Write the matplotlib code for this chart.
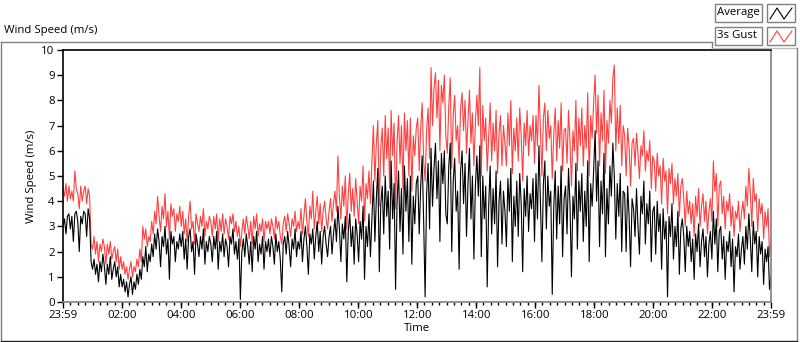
import numpy as np
import matplotlib.pyplot as plt
from matplotlib.lines import Line2D
from matplotlib.patches import Rectangle

# one row per hour after 23:59, 20 samples (3 min) per row
average = [
    3.0, 3.3, 2.7, 3.4, 3.5, 2.9, 3.4, 2.4, 3.5, 3.6, 3.2, 2.0, 3.4, 3.1, 3.6, 3.5, 2.6, 3.7, 3.3, 1.6,
    1.3, 1.7, 1.1, 1.5, 0.8, 1.6, 1.2, 1.9, 1.4, 0.7, 1.5, 1.1, 1.8, 0.9, 1.3, 1.6, 1.0, 1.4, 0.6, 1.1,
    0.6, 0.9, 0.4, 0.8, 0.2, 0.7, 1.0, 0.3, 0.8, 0.5, 1.1, 0.7, 1.3, 0.9, 1.8, 1.4, 2.2, 1.2, 1.9, 1.6,
    2.3, 1.8, 2.7, 2.1, 2.9, 2.4, 1.4, 2.6, 2.2, 3.0, 1.9, 2.5, 0.9, 2.8, 2.3, 2.6, 1.6, 2.4, 2.1, 2.7,
    2.2, 2.8, 1.7, 2.5, 1.3, 2.6, 2.9, 2.0, 2.4, 1.1, 2.7, 2.3, 1.8, 2.6, 2.1, 2.9, 1.5, 2.4, 2.0, 2.6,
    2.3, 1.6, 2.6, 2.1, 2.8, 1.3, 2.4, 2.0, 2.7, 1.8, 2.5, 2.2, 1.4, 2.6, 2.3, 2.9, 1.9, 2.4, 1.7, 2.5,
    0.1, 2.0, 2.5, 1.8, 2.7, 2.2, 1.5, 2.4, 1.2, 2.6, 2.1, 2.8, 1.6, 2.3, 1.9, 2.6, 1.3, 2.4, 2.0, 2.5,
    1.8, 2.6, 2.2, 1.5, 2.7, 2.0, 2.4, 1.7, 0.4, 2.3, 2.6, 1.9, 2.8, 2.2, 1.4, 2.5, 2.1, 2.9, 1.8, 2.4,
    2.1, 2.8, 1.6, 2.5, 3.0, 2.2, 1.1, 2.7, 2.3, 2.9, 1.7, 2.6, 3.2, 2.0, 2.8, 1.5, 2.6, 3.0, 2.3, 1.8,
    2.6, 3.0, 1.9, 2.7, 3.3, 2.4, 3.8, 2.9, 1.6, 3.1, 2.5, 3.4, 0.8, 2.8, 3.5, 2.2, 3.0, 1.5, 3.3, 2.7,
    1.6, 3.2, 2.5, 3.8, 0.9, 3.0, 2.2, 3.5, 1.8, 3.3, 4.8, 2.4, 4.1, 5.3, 1.2, 3.9, 4.6, 2.7, 5.0, 3.4,
    4.4, 2.1, 5.6, 3.3, 4.7, 0.5, 3.9, 5.2, 2.8, 4.5, 1.9, 5.4, 3.6, 4.9, 2.4, 5.0, 1.5, 4.2, 3.1, 4.7,
    5.0, 2.7, 4.6, 5.8, 3.2, 0.2, 4.3, 5.5, 2.9, 6.1, 3.8, 5.3, 6.3, 4.1, 5.6, 2.4, 5.9, 4.7, 6.0, 3.5,
    3.1, 5.4, 6.3, 2.0, 4.8, 5.7, 3.6, 4.4, 1.3, 5.2, 6.0, 3.9, 5.5, 2.6, 4.7, 6.1, 3.3, 5.0, 1.7, 4.6,
    5.8, 4.2, 6.2, 1.8, 5.0, 3.3, 4.6, 0.6, 3.8, 5.4, 2.7, 4.5, 3.1, 5.2, 1.4, 4.0, 4.8, 2.3, 4.4, 3.6,
    2.2, 4.9, 3.6, 5.3, 1.6, 4.2, 3.0, 4.8, 2.6, 5.1, 3.9, 1.2, 4.5, 3.4, 5.0, 2.8, 4.3, 3.7, 4.9, 2.4,
    5.1, 3.3, 6.2, 4.0, 1.6, 4.7, 5.6, 2.9, 5.0, 3.8, 4.4, 0.3, 3.7, 5.2, 2.5, 4.6, 3.1, 5.4, 1.8, 4.1,
    4.6, 2.7, 5.3, 3.9, 1.0, 4.2, 3.3, 5.5, 2.1, 4.8, 3.6, 5.1, 2.4, 4.4, 3.0, 5.6, 1.6, 4.7, 3.8, 5.2,
    6.8, 4.0, 5.6, 2.2, 4.8, 3.5, 5.9, 1.8, 4.5, 3.1, 5.4, 4.2, 6.3, 5.0, 2.5, 4.7, 3.4, 5.1, 2.0, 4.4,
    4.3, 2.0, 4.6, 3.4, 1.4, 4.1, 3.7, 2.6, 4.5, 3.0, 1.9, 4.2, 3.5, 4.8, 2.3, 3.9, 3.1, 4.4, 1.6, 3.6,
    3.8, 1.9, 4.0, 2.8, 3.5, 1.3, 3.7, 2.5, 3.2, 0.2, 3.4, 2.6, 3.9, 1.7, 3.0, 2.2, 3.6, 1.1, 2.9, 3.3,
    2.6, 1.2, 3.0, 2.2, 2.8, 1.6, 2.5, 0.9, 2.7, 2.0, 3.1, 1.4, 2.4, 2.9, 1.8, 2.6, 1.0, 2.3, 2.8, 1.7,
    3.6, 2.3, 3.3, 1.2, 2.8, 3.0, 1.7, 2.6, 0.9, 2.4, 2.0, 2.8, 1.4, 2.5, 0.4, 2.2, 1.8, 2.7, 1.3, 2.1,
    2.6, 1.5, 3.0, 2.1, 3.5, 2.5, 1.2, 3.2, 2.3, 2.8, 1.0, 2.6, 1.9, 2.4, 0.7, 2.1, 1.6, 2.2, 0.5, 1.0,
]
gust = [
    4.5, 4.2, 4.7, 4.0, 4.6, 4.1, 4.4, 4.0, 5.2, 4.5, 4.3, 3.7, 4.6, 4.0, 4.4, 4.6, 3.9, 4.5, 4.2, 2.3,
    2.1, 2.6, 1.9, 2.4, 1.6, 2.3, 2.0, 2.5, 2.2, 1.5, 2.3, 1.9, 2.4, 1.7, 2.0, 2.2, 1.6, 2.1, 1.3, 1.8,
    1.3, 1.6, 1.1, 1.4, 0.9, 1.3, 1.6, 1.0, 1.4, 1.2, 1.7, 1.4, 2.1, 1.6, 3.0, 2.5, 2.9, 2.2, 2.6, 2.4,
    3.2, 2.7, 3.6, 3.1, 4.2, 3.4, 2.8, 3.8, 3.3, 4.3, 3.0, 3.6, 2.5, 3.9, 3.4, 3.7, 2.8, 3.5, 3.2, 3.8,
    3.0, 3.6, 2.7, 3.3, 2.4, 3.4, 4.0, 2.9, 3.2, 2.3, 3.5, 3.1, 2.8, 3.4, 3.0, 3.7, 2.6, 3.2, 2.9, 3.4,
    3.2, 2.6, 3.4, 2.9, 3.5, 2.4, 3.3, 2.8, 3.5, 2.7, 3.3, 3.0, 2.5, 3.4, 3.1, 3.5, 2.8, 3.2, 2.6, 3.0,
    2.2, 2.8, 3.3, 2.7, 3.4, 3.0, 2.5, 3.2, 2.3, 3.4, 2.9, 3.5, 2.6, 3.1, 2.8, 3.3, 2.4, 3.2, 2.9, 3.2,
    2.7, 3.3, 3.0, 2.5, 3.4, 2.9, 3.2, 2.6, 2.3, 3.1, 3.4, 2.8, 3.5, 3.1, 2.6, 3.3, 3.0, 3.6, 2.8, 3.2,
    2.9, 3.7, 2.7, 3.4, 4.1, 3.2, 2.6, 3.8, 3.3, 4.4, 2.9, 3.6, 4.2, 3.1, 3.9, 2.8, 3.6, 4.0, 3.3, 2.9,
    3.6, 4.1, 3.2, 3.9, 4.4, 3.6, 5.8, 4.2, 3.3, 4.6, 3.8, 5.0, 2.9, 4.3, 5.1, 3.6, 4.5, 3.4, 4.9, 4.0,
    3.1, 4.6, 4.0, 5.4, 3.2, 4.7, 4.1, 5.2, 3.9, 5.6, 7.0, 4.8, 6.3, 7.2, 3.8, 6.1, 6.9, 5.0, 7.4, 5.7,
    6.9, 4.5, 7.6, 5.8, 7.1, 3.7, 6.3, 7.4, 5.5, 7.0, 4.5, 7.5, 6.0, 7.2, 5.0, 7.3, 4.4, 6.6, 5.8, 6.9,
    7.3, 5.2, 6.9, 7.9, 5.6, 4.8, 6.8, 7.7, 5.7, 9.3, 7.0, 8.5, 9.1, 7.3, 8.8, 6.0, 8.6, 7.9, 9.0, 6.6,
    5.9, 7.8, 8.9, 5.3, 7.4, 8.2, 6.4, 7.0, 5.5, 7.7, 8.3, 6.8, 8.0, 5.9, 7.2, 8.4, 6.3, 7.5, 5.4, 7.1,
    8.2, 7.0, 9.3, 5.0, 7.8, 6.4, 7.3, 5.2, 6.6, 7.9, 5.6, 7.1, 6.0, 7.6, 5.1, 6.7, 7.4, 5.4, 7.0, 6.3,
    5.4, 7.5, 6.2, 8.0, 5.1, 6.9, 6.0, 7.3, 5.6, 7.7, 6.6, 4.8, 7.1, 6.2, 7.6, 5.8, 7.0, 6.4, 7.4, 5.5,
    7.4, 6.2, 8.6, 6.8, 5.0, 7.3, 7.9, 6.0, 7.6, 6.5, 7.0, 4.9, 6.6, 7.7, 5.6, 7.2, 6.1, 7.9, 5.2, 6.8,
    6.9, 5.5, 7.6, 6.4, 4.6, 6.8, 6.0, 8.0, 5.2, 7.3, 6.2, 7.7, 5.4, 7.0, 6.1, 8.3, 5.0, 7.4, 6.5, 7.9,
    9.0, 6.7, 8.2, 5.4, 7.5, 6.4, 8.4, 5.1, 7.2, 6.3, 8.0, 7.1, 8.9, 9.4, 6.0, 7.7, 6.3, 7.8, 5.4, 7.0,
    6.6, 5.0, 6.9, 6.1, 4.6, 6.3, 6.5, 5.4, 6.7, 5.9, 4.9, 6.2, 5.8, 6.8, 5.2, 6.0, 5.6, 6.4, 4.5, 5.8,
    5.6, 4.4, 5.9, 5.0, 5.4, 3.9, 5.7, 4.8, 5.2, 3.5, 5.3, 4.7, 5.5, 3.9, 4.9, 4.2, 5.1, 3.4, 4.6, 4.9,
    4.1, 3.0, 4.4, 3.5, 4.0, 3.1, 3.9, 2.6, 4.2, 3.4, 4.5, 3.0, 3.8, 4.3, 3.2, 4.0, 2.7, 3.6, 4.1, 3.2,
    5.6, 4.4, 5.1, 3.0, 4.6, 4.8, 3.5, 4.2, 2.9, 4.0, 3.6, 4.3, 3.0, 3.8, 2.6, 3.6, 3.3, 4.0, 2.8, 3.5,
    4.0, 3.3, 4.6, 3.8, 5.3, 4.4, 3.0, 4.9, 4.0, 4.3, 2.8, 4.1, 3.5, 3.9, 2.5, 3.6, 3.0, 3.7, 1.8, 2.4,
]
tick_labels = ["23:59", "02:00", "04:00", "06:00", "08:00", "10:00", "12:00",
               "14:00", "16:00", "18:00", "20:00", "22:00", "23:59"]

hours = np.linspace(0, 24, len(average))
tick_pos = [0] + [k * 2 + 1 / 60 for k in range(1, 12)] + [24]

plt.rcParams['font.family'] = ['Open Sans', 'DejaVu Sans']
fig = plt.figure(figsize=(8, 3.42), dpi=100)
ax = fig.add_axes([63 / 800, 40 / 342, 708 / 800, 252 / 342])

ax.plot(hours, gust, color='#ff4040', lw=0.8)
ax.plot(hours, average, color='black', lw=0.8)
ax.set_xlim(0, 24)
ax.set_ylim(0, 10)
ax.set_yticks(range(11))
ax.set_xticks(tick_pos)
ax.set_xticklabels(tick_labels)
ax.set_xticks(np.arange(0, 24, 0.25), minor=True)
ax.tick_params(labelsize=8.2, length=4, width=1, pad=2)
ax.tick_params(which='minor', length=2.5, width=1)
ax.set_ylabel('Wind Speed (m/s)', fontsize=8.2, labelpad=3)
ax.set_xlabel('Time', fontsize=8.2, labelpad=1)
ax.spines['top'].set_color('black')
ax.spines['left'].set_color('black')
ax.spines['bottom'].set_color('#808080')
ax.spines['right'].set_color('#808080')
for s in ax.spines.values():
    s.set_linewidth(1.2)

fig.text(4 / 800, 1 - 31 / 342, 'Wind Speed (m/s)', fontsize=8.2, va='center')

# outer panel frame
gray = '#808080'
fig.add_artist(Line2D([1 / 800, 1 / 800], [1 / 342, 1 - 42 / 342], color=gray, lw=1))
fig.add_artist(Line2D([1 / 800, 712 / 800], [1 - 42 / 342, 1 - 42 / 342], color=gray, lw=1))
fig.add_artist(Line2D([712 / 800, 712 / 800], [1 - 42 / 342, 1 - 48 / 342], color=gray, lw=1))
fig.add_artist(Line2D([712 / 800, 797 / 800], [1 - 48 / 342, 1 - 48 / 342], color='#c0c0c0', lw=1))
fig.add_artist(Line2D([797 / 800, 797 / 800], [1 / 342, 1 - 48 / 342], color=gray, lw=1))
fig.add_artist(Line2D([1 / 800, 797 / 800], [1 / 342, 1 / 342], color='#202020', lw=1))

# legend boxes
for i, (name, col) in enumerate([('Average', 'black'), ('3s Gust', '#ff4040')]):
    top = 4 + i * 23
    fig.add_artist(Rectangle((715 / 800, 1 - (top + 18) / 342), 47 / 800, 18 / 342,
                             fill=False, ec=gray, lw=1))
    fig.text(717 / 800, 1 - (top + 9) / 342, name, fontsize=8.2, va='center')
    fig.add_artist(Rectangle((767 / 800, 1 - (top + 18) / 342), 28 / 800, 18 / 342,
                             fill=False, ec=gray, lw=1))
    xs = np.array([770, 777, 784, 792]) / 800
    ys = 1 - np.array([top + 15, top + 4, top + 15, top + 4]) / 342
    fig.add_artist(Line2D(xs, ys, color=col, lw=0.8))

fig.savefig('out.png', dpi=100)
